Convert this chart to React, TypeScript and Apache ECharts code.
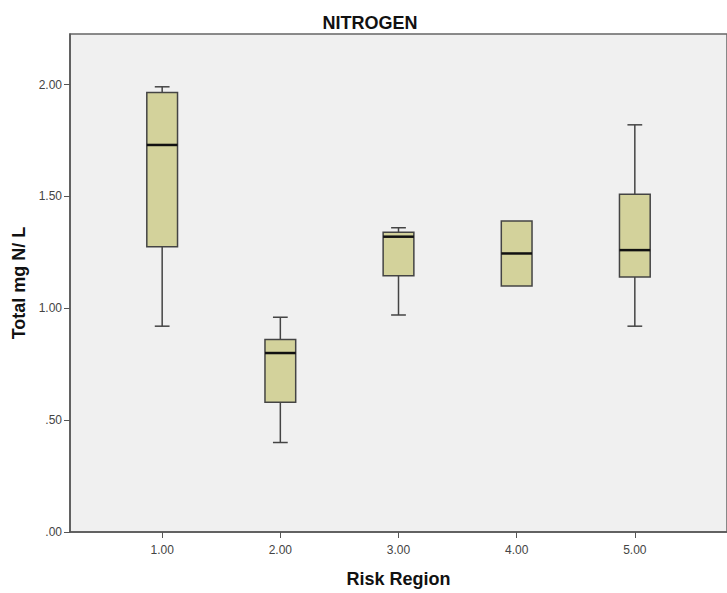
import React, { useEffect, useRef } from "react";
import * as echarts from "echarts";

const categories = [1, 2, 3, 4, 5];
// [min, Q1, median, Q3, max]
const boxValues = [
  [0.92, 1.275, 1.73, 1.965, 1.99],
  [0.40, 0.58, 0.80, 0.86, 0.96],
  [0.97, 1.145, 1.32, 1.34, 1.36],
  [1.10, 1.10, 1.245, 1.39, 1.39],
  [0.92, 1.14, 1.26, 1.51, 1.82],
];
const xTicks = [1, 2, 3, 4, 5];
const yTicks = [0, 0.5, 1, 1.5, 2];

const fmt = (v: number) => {
  const s = v.toFixed(2);
  return s.startsWith("0") ? s.slice(1) : s;
};

export default function App() {
  const ref = useRef<HTMLDivElement>(null);
  useEffect(() => {
    document.body.style.margin = "0";
    const chart = echarts.init(ref.current!, null, { renderer: "svg" });
    const data = categories.map((c, i) => [c, ...boxValues[i]]);
    chart.setOption({
      animation: false,
      backgroundColor: "#ffffff",
      title: {
        text: "NITROGEN",
        left: 365,
        textAlign: "center",
        top: 9,
        textStyle: { fontFamily: "Liberation Sans", fontSize: 18, fontWeight: "bold", color: "#111" },
      },
      grid: {
        left: 70,
        top: 34,
        width: 663,
        height: 502,
        show: true,
        backgroundColor: "#f0f0f0",
        borderColor: "#666",
        borderWidth: 1.5,
      },
      xAxis: {
        type: "value",
        min: 0.22,
        max: 5.78,
        name: "Risk Region",
        nameLocation: "middle",
        nameGap: 38,
        nameTextStyle: { fontFamily: "Liberation Sans", fontSize: 18, fontWeight: "bold", color: "#111" },
        axisLine: { show: true, lineStyle: { color: "#555", width: 1.5 } },
        axisTick: { show: true, customValues: xTicks, length: 6, lineStyle: { color: "#555" } },
        axisLabel: {
          customValues: xTicks,
          formatter: (v: number) => fmt(v),
          fontFamily: "Liberation Sans",
          fontSize: 12,
          color: "#444",
          margin: 12,
        },
        splitLine: { show: false },
      },
      yAxis: {
        type: "value",
        min: 0,
        max: 2.226,
        name: "Total mg N/ L",
        nameLocation: "middle",
        nameGap: 40,
        nameRotate: 90,
        nameTextStyle: { fontFamily: "Liberation Sans", fontSize: 18, fontWeight: "bold", color: "#111" },
        axisLine: { show: true, lineStyle: { color: "#555", width: 1.5 } },
        axisTick: { show: true, customValues: yTicks, length: 6, inside: false, lineStyle: { color: "#555" } },
        axisLabel: {
          customValues: yTicks,
          formatter: (v: number) => fmt(v),
          fontFamily: "Liberation Sans",
          fontSize: 12,
          color: "#444",
          margin: 8,
        },
        splitLine: { show: false },
      },
      series: [
        {
          type: "custom",
          data,
          renderItem: (params: any, api: any) => {
            const x = api.value(0);
            const mn = api.coord([x, api.value(1)]);
            const q1 = api.coord([x, api.value(2)]);
            const md = api.coord([x, api.value(3)]);
            const q3 = api.coord([x, api.value(4)]);
            const mx = api.coord([x, api.value(5)]);
            const unit = api.size([1, 0])[0];
            const w = unit * 0.26;
            const cap = unit * 0.125;
            const cx = mn[0];
            const ls = { stroke: "#444", lineWidth: 1.5 };
            const children: any[] = [];
            if (mx[1] < q3[1] - 0.5) {
              children.push({ type: "line", shape: { x1: cx, y1: q3[1], x2: cx, y2: mx[1] }, style: ls });
              children.push({ type: "line", shape: { x1: cx - cap / 2, y1: mx[1], x2: cx + cap / 2, y2: mx[1] }, style: ls });
            }
            if (mn[1] > q1[1] + 0.5) {
              children.push({ type: "line", shape: { x1: cx, y1: q1[1], x2: cx, y2: mn[1] }, style: ls });
              children.push({ type: "line", shape: { x1: cx - cap / 2, y1: mn[1], x2: cx + cap / 2, y2: mn[1] }, style: ls });
            }
            children.push({
              type: "rect",
              shape: { x: cx - w / 2, y: q3[1], width: w, height: q1[1] - q3[1] },
              style: { fill: "#d3d29b", stroke: "#444", lineWidth: 1.5 },
            });
            children.push({
              type: "line",
              shape: { x1: cx - w / 2, y1: md[1], x2: cx + w / 2, y2: md[1] },
              style: { stroke: "#111", lineWidth: 2.5 },
            });
            return { type: "group", children };
          },
        },
      ],
    });
    return () => chart.dispose();
  }, []);
  return <div ref={ref} style={{ width: 727, height: 593 }} />;
}
